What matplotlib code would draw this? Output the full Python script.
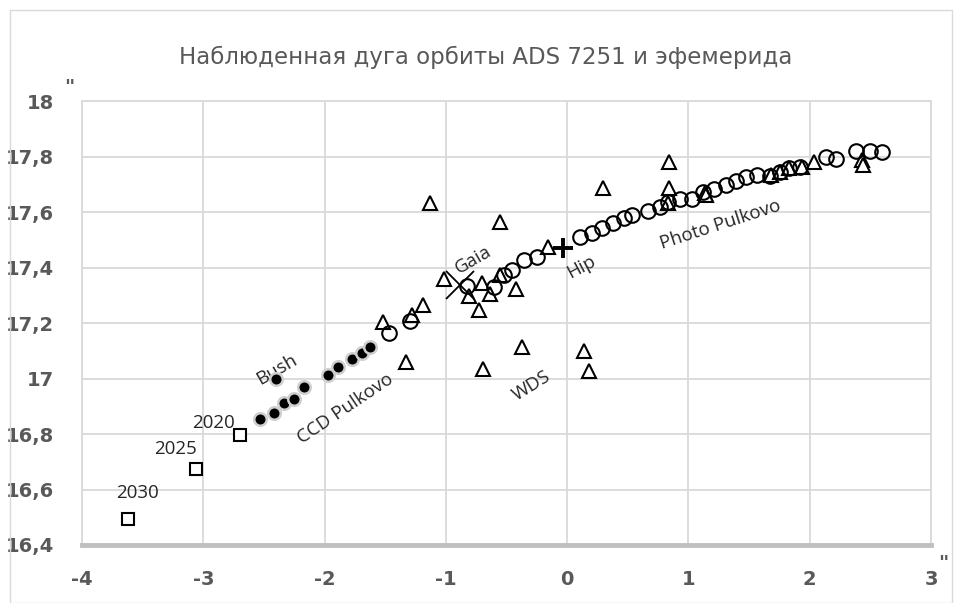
import matplotlib
matplotlib.use("Agg")
from matplotlib import pyplot as plt
from matplotlib.patches import Rectangle

# ephemeris (years 2020, 2025, 2030)
eph_x = [-2.697, -3.060, -3.621]
eph_y = [16.797, 16.675, 16.494]
eph_lbl = ["2020", "2025", "2030"]

# CCD Pulkovo (filled dots), Bush point is the one at -2.40
ccd_x = [-2.533, -2.417, -2.332, -2.252, -2.170, -2.401, -1.974, -1.892, -1.777, -1.689, -1.623]
ccd_y = [16.855, 16.875, 16.911, 16.927, 16.969, 16.999, 17.014, 17.042, 17.070, 17.094, 17.113]

# Photo Pulkovo (open circles)
ph_x = [-1.467, -1.296, -0.822, -0.603, -0.521, -0.458, -0.356, -0.246, 0.106, 0.202,
        0.284, 0.380, 0.466, 0.532, 0.666, 0.763, 0.831, 0.927, 1.026, 1.122,
        1.210, 1.309, 1.392, 1.474, 1.567, 1.672, 1.754, 1.831, 1.919, 2.134,
        2.216, 2.381, 2.496, 2.593]
ph_y = [17.166, 17.209, 17.333, 17.332, 17.374, 17.392, 17.428, 17.440, 17.510, 17.527,
        17.543, 17.563, 17.579, 17.591, 17.606, 17.620, 17.637, 17.649, 17.649, 17.675,
        17.683, 17.699, 17.714, 17.729, 17.735, 17.731, 17.747, 17.759, 17.765, 17.799,
        17.791, 17.823, 17.823, 17.819]

# WDS (triangles)
wds_x = [-1.131, -0.554, 0.298, 0.842, 0.842, -0.156, -1.016, -0.705, -0.807, -0.636,
         -0.554, -0.725, -0.422, -1.186, -1.282, -1.516, -1.329, -0.692, -0.373, 0.139,
         0.182, 0.833, 1.136, 1.144, 1.678, 1.754, 1.831, 1.933, 2.035, 2.428, 2.441]
wds_y = [17.633, 17.566, 17.687, 17.783, 17.687, 17.476, 17.359, 17.344, 17.298, 17.306,
         17.374, 17.248, 17.323, 17.266, 17.230, 17.206, 17.061, 17.034, 17.113, 17.100,
         17.029, 17.633, 17.671, 17.663, 17.735, 17.747, 17.759, 17.765, 17.783, 17.789,
         17.771]

gaia_x, gaia_y = [-0.884], [17.338]
hip_x, hip_y = [-0.037], [17.473]

plt.rcParams['font.family'] = ['DejaVu Sans']

fig = plt.figure(figsize=(9.61, 6.03), dpi=100)
ax = fig.add_axes([0.0853, 0.0962, 0.8835, 0.7355])

grey = "#595959"
ax.grid(True, color="#d9d9d9", linewidth=1.3)
ax.set_axisbelow(True)
for s in ["top", "right", "left"]:
    ax.spines[s].set_color("#d9d9d9")
    ax.spines[s].set_linewidth(1.3)
ax.spines["bottom"].set_color("#bfbfbf")
ax.spines["bottom"].set_linewidth(3.5)

ax.plot(wds_x, wds_y, ls="none", marker="^", ms=9.5, mfc="white", mec="black", mew=1.5, zorder=3)
ax.plot(ph_x, ph_y, ls="none", marker="o", ms=10.5, mfc="none", mec="black", mew=1.5, zorder=4)
ax.plot(ccd_x, ccd_y, ls="none", marker="o", ms=9, mfc="black", mec="#cfcfcf", mew=1.8, zorder=4)
ax.plot(eph_x, eph_y, ls="none", marker="s", ms=9, mfc="white", mec="black", mew=1.5, zorder=4)
ax.plot(gaia_x, gaia_y, ls="none", marker="x", ms=20, mec="black", mew=1.3, zorder=5)
ax.plot(hip_x, hip_y, ls="none", marker="+", ms=14, mec="black", mew=2.8, zorder=5)

ax.set_xlim(-4, 3)
ax.set_ylim(16.4, 18)
ax.set_xticks(range(-4, 4))
ax.set_yticks([16.4 + 0.2 * i for i in range(9)])
ax.set_xticklabels([str(v) for v in range(-4, 4)])
ax.set_yticklabels(["16,4", "16,6", "16,8", "17", "17,2", "17,4", "17,6", "17,8", "18"])
ax.tick_params(length=0, labelsize=14, labelcolor=grey)
ax.tick_params(axis="x", pad=18)
ax.tick_params(axis="y", pad=20)
for lab in ax.get_xticklabels() + ax.get_yticklabels():
    lab.set_fontweight("bold")

afont = dict(family=["Open Sans", "DejaVu Sans"], fontsize=13.5, color="#262626",
             ha="center", va="center")
pos = [(-2.918, 16.841), (-3.225, 16.746), (-3.544, 16.589)]
for (tx, ty), t in zip(pos, eph_lbl):
    ax.text(tx, ty, t, **afont)
ax.text(-2.395, 17.031, "Bush", rotation=30, **afont)
ax.text(-1.832, 16.893, "CCD Pulkovo", rotation=34, **afont)
ax.text(-0.774, 17.428, "Gaia", rotation=30, **afont)
ax.text(0.120, 17.404, "Hip", rotation=28, **afont)
ax.text(-0.293, 16.974, "WDS", rotation=32, **afont)
ax.text(1.265, 17.554, "Photo Pulkovo", rotation=18, **afont)

fig.text(486 / 961, 1 - 57 / 603, "Наблюденная дуга орбиты ADS 7251 и эфемерида",
         ha="center", va="center", fontsize=16.5, color=grey)
fig.text(69 / 961, 1 - 88 / 603, '"', ha="center", va="center", fontsize=14,
         color=grey, fontweight="bold")
fig.text(943 / 961, 1 - 563 / 603, '"', ha="center", va="center", fontsize=14,
         color=grey, fontweight="bold")

fig.patches.append(Rectangle((10 / 961, 0), 942 / 961, 1 - 10 / 603, transform=fig.transFigure,
                             fill=False, edgecolor="#d9d9d9", linewidth=1))

fig.savefig("out.png", dpi=100)
